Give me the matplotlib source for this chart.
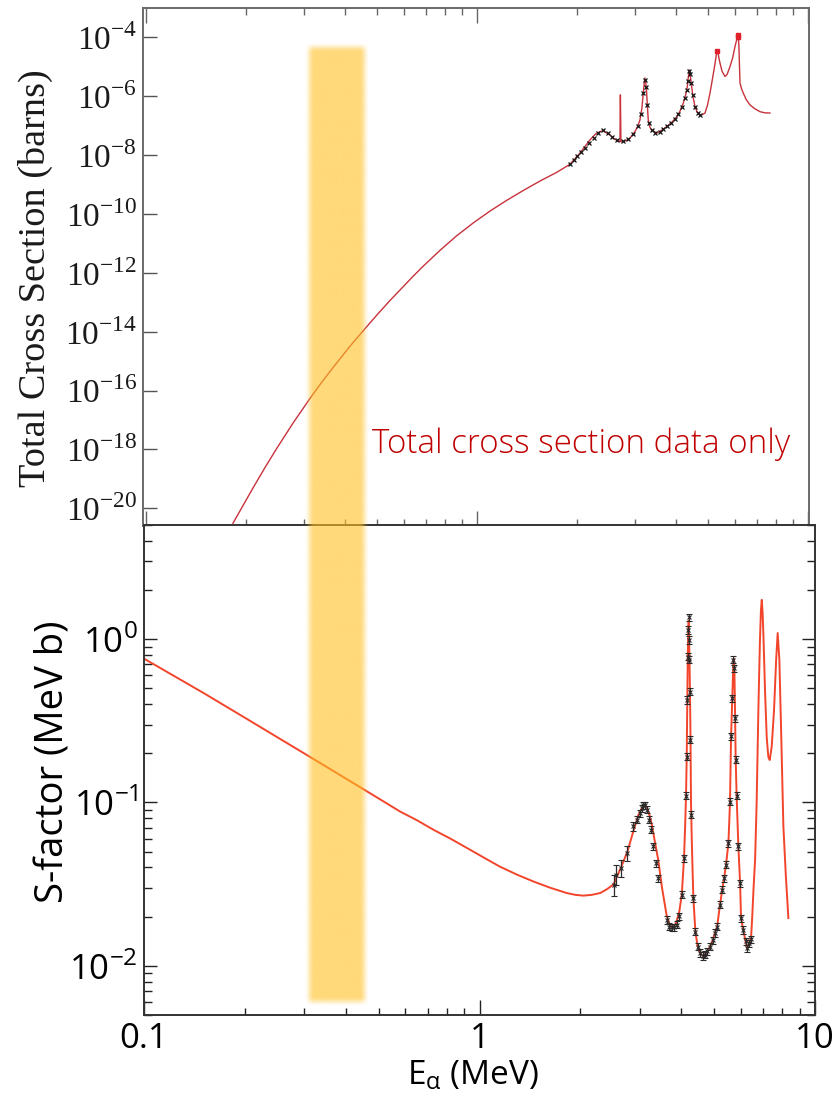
import numpy as np
import matplotlib
matplotlib.use("Agg")
import matplotlib.pyplot as plt
from matplotlib.ticker import FixedLocator, LogLocator, NullLocator, NullFormatter

# ---------------- upper panel: total cross section (barns) ----------------
sig_fit_E = [0.1832, 0.1966, 0.2110, 0.2288, 0.2482, 0.2787, 0.3130, 0.3394, 0.3680,
             0.4133, 0.4643, 0.5035, 0.5461, 0.5923, 0.6423, 0.6884, 0.773, 0.8683,
             0.975, 1.095, 1.229, 1.380, 1.55, 1.741, 1.910, 2.05, 2.195, 2.28, 2.353,
             2.41, 2.465, 2.52, 2.58, 2.673, 2.704, 2.712, 2.722, 2.767, 2.83, 2.899,
             3.00, 3.05, 3.108, 3.15, 3.18, 3.20, 3.218, 3.237, 3.256, 3.275, 3.292,
             3.33, 3.372, 3.491, 3.62, 3.742, 3.88, 4.012, 4.11, 4.202, 4.27, 4.319,
             4.35, 4.379, 4.41, 4.453, 4.50, 4.556, 4.62, 4.718, 4.80, 4.885, 4.97,
             5.058, 5.13, 5.20, 5.26, 5.30, 5.321, 5.345, 5.38, 5.422, 5.50, 5.614,
             5.70, 5.812, 5.92, 6.018, 6.10, 6.159, 6.185, 6.21, 6.232, 6.30, 6.374,
             6.50, 6.679, 6.90, 7.161, 7.40, 7.677]
sig_fit = [3.1e-21, 1.26e-20, 5.1e-20, 2.4e-19, 1.07e-18, 8.1e-18, 5.4e-17, 1.9e-16,
           6.2e-16, 3.2e-15, 1.48e-14, 4.2e-14, 1.15e-13, 3.0e-13, 7.8e-13, 1.7e-12,
           5.8e-12, 1.82e-11, 5.0e-11, 1.26e-10, 2.9e-10, 6.3e-10, 1.32e-9, 2.6e-9,
           4.9e-9, 1.2e-8, 3.3e-8, 5.2e-8, 6.3e-8, 6.8e-8, 5.6e-8, 4.9e-8, 3.8e-8,
           2.95e-8, 2.9e-8, 1.12e-6, 2.9e-8, 2.9e-8, 3.2e-8, 3.8e-8, 6.3e-8, 8.9e-8,
           1.58e-7, 4.0e-7, 1.29e-6, 2.8e-6, 4.2e-6, 2.8e-6, 1.29e-6, 4.0e-7, 1.58e-7,
           8.9e-8, 7.2e-8, 5.6e-8, 7.1e-8, 9.3e-8, 1.32e-7, 2.0e-7, 3.2e-7, 5.9e-7,
           1.12e-6, 2.1e-6, 4.5e-6, 7.9e-6, 5.0e-6, 2.1e-6, 8.9e-7, 4.5e-7, 3.0e-7,
           2.3e-7, 2.4e-7, 2.7e-7, 5.0e-7, 1.29e-6, 3.2e-6, 7.9e-6, 1.8e-5, 3.2e-5,
           3.8e-5, 3.2e-5, 2.0e-5, 1.35e-5, 7.1e-6, 4.7e-6, 5.6e-6, 1.02e-5, 2.0e-5,
           4.9e-5, 8.9e-5, 1.23e-4, 5.0e-5, 1.0e-5, 2.8e-6, 1.78e-6, 1.29e-6, 7.9e-7,
           5.1e-7, 3.8e-7, 3.0e-7, 2.75e-7, 2.7e-7]

sig_dat_E = [1.91, 1.96, 2.01, 2.06, 2.12, 2.18, 2.25, 2.32, 2.40, 2.48, 2.56, 2.64,
             2.76, 2.86, 2.96, 3.06, 3.13, 3.18, 3.21, 3.24, 3.27, 3.31, 3.38, 3.46,
             3.56, 3.66, 3.76, 3.86, 3.96, 4.06, 4.16, 4.24, 4.30, 4.34, 4.37, 4.40,
             4.44, 4.49, 4.56, 4.64, 4.72]
sig_dat = [5.0e-9, 7.1e-9, 9.5e-9, 1.32e-8, 1.82e-8, 2.6e-8, 3.8e-8, 5.6e-8, 6.9e-8,
           5.75e-8, 4.2e-8, 3.2e-8, 2.95e-8, 3.55e-8, 5.2e-8, 1.0e-7, 2.5e-7, 1.26e-6,
           3.5e-6, 2.0e-6, 5.0e-7, 1.26e-7, 7.1e-8, 5.75e-8, 6.3e-8, 7.9e-8, 9.5e-8,
           1.2e-7, 1.74e-7, 2.5e-7, 4.5e-7, 8.9e-7, 1.58e-6, 3.3e-6, 7.1e-6, 5.6e-6,
           2.8e-6, 1.12e-6, 4.5e-7, 2.8e-7, 2.4e-7]
sig_peak_E = [5.32, 6.15, 6.16]
sig_peak = [3.5e-5, 1.0e-4, 1.2e-4]

# ---------------- lower panel: S-factor (MeV b) ----------------
S_fit_E = [0.10, 0.15, 0.20, 0.30, 0.40, 0.50, 0.58, 0.65, 0.73, 0.82, 0.92, 1.03,
           1.15, 1.30, 1.45, 1.63, 1.82, 1.93, 2.04, 2.16, 2.29, 2.40, 2.51, 2.64,
           2.76, 2.87, 2.97, 3.05, 3.10, 3.15, 3.20, 3.26, 3.33, 3.41, 3.50, 3.61,
           3.70, 3.78, 3.86, 3.94, 4.01, 4.07, 4.10, 4.126, 4.146, 4.163, 4.176, 4.19,
           4.203, 4.215, 4.227, 4.241, 4.256, 4.27, 4.29, 4.32, 4.34, 4.40, 4.47, 4.54,
           4.63, 4.70, 4.78, 4.86, 4.96, 5.03, 5.11, 5.21, 5.29, 5.36, 5.43, 5.52,
           5.58, 5.62, 5.67, 5.71, 5.73, 5.75, 5.78, 5.80, 5.84, 5.91, 5.98, 6.02,
           6.11, 6.21, 6.28, 6.37, 6.45, 6.50, 6.56, 6.63, 6.70, 6.78, 6.85, 6.90,
           6.94, 6.98, 7.02, 7.10, 7.18, 7.26, 7.33, 7.43, 7.55, 7.66, 7.74, 7.83,
           7.92, 8.05, 8.19, 8.33]
S_fit = [0.76, 0.47, 0.33, 0.20, 0.14, 0.106, 0.088, 0.078, 0.068, 0.060, 0.0525,
         0.046, 0.0405, 0.036, 0.0328, 0.0300, 0.0279, 0.0272, 0.0269, 0.0272, 0.0279,
         0.0295, 0.0315, 0.040, 0.050, 0.066, 0.083, 0.093, 0.0965, 0.094, 0.086,
         0.074, 0.058, 0.0445, 0.030, 0.0205, 0.0175, 0.0170, 0.0185, 0.0215, 0.0275,
         0.046, 0.07, 0.11, 0.19, 0.43, 0.78, 1.12, 1.30, 1.02, 0.72, 0.46, 0.24,
         0.10, 0.062, 0.036, 0.026, 0.0162, 0.0131, 0.0120, 0.0115, 0.0117, 0.0123,
         0.0131, 0.0144, 0.0159, 0.0174, 0.0237, 0.0292, 0.0345, 0.0416, 0.0565,
         0.10, 0.25, 0.44, 0.72, 0.76, 0.66, 0.33, 0.19, 0.11, 0.054, 0.032, 0.0196,
         0.0166, 0.0141, 0.0128, 0.0138, 0.015, 0.020, 0.030, 0.045, 0.10, 0.37,
         0.95, 1.5, 1.74, 1.45, 1.04, 0.47, 0.25, 0.19, 0.182, 0.22, 0.37, 0.75, 1.09,
         0.75, 0.29, 0.071, 0.035, 0.0196]

S_dat_E = [2.51, 2.56, 2.64, 2.76, 2.87, 2.94, 3.00, 3.05, 3.08, 3.12, 3.15, 3.19,
           3.24, 3.30, 3.35, 3.41, 3.61, 3.68, 3.74, 3.80, 3.87, 3.94, 4.01, 4.07,
           4.13, 4.15, 4.16, 4.17, 4.18, 4.20, 4.21, 4.225, 4.24, 4.255, 4.275, 4.34,
           4.40, 4.47, 4.54, 4.63, 4.70, 4.78, 4.86, 4.96, 5.03, 5.11, 5.21, 5.29,
           5.36, 5.43, 5.52, 5.58, 5.62, 5.67, 5.71, 5.75, 5.78, 5.80, 5.84, 5.91,
           5.98, 6.02, 6.11, 6.22, 6.28, 6.37, 6.43]
S_dat = [0.0313, 0.0361, 0.0397, 0.049, 0.0713, 0.0783, 0.0861, 0.0924, 0.0959,
         0.0959, 0.0902, 0.0783, 0.0681, 0.0538, 0.0426, 0.0345, 0.0191, 0.0174,
         0.0172, 0.0172, 0.0179, 0.0201, 0.0272, 0.0457, 0.110, 0.191, 0.425, 0.783,
         1.14, 1.36, 0.99, 0.747, 0.478, 0.242, 0.0841, 0.026, 0.0162, 0.0131, 0.0120,
         0.0115, 0.0117, 0.0123, 0.0131, 0.0144, 0.0159, 0.0174, 0.0237, 0.0292,
         0.0345, 0.0416, 0.0565, 0.101, 0.254, 0.436, 0.747, 0.665, 0.329, 0.183,
         0.110, 0.0538, 0.0321, 0.0196, 0.0166, 0.0141, 0.0128, 0.0138, 0.0146]
S_rel_err = [0.15, 0.14, 0.12, 0.10, 0.06, 0.05, 0.05, 0.05, 0.05, 0.05, 0.05, 0.05,
             0.05, 0.05, 0.05, 0.05, 0.05, 0.05, 0.05, 0.05, 0.05, 0.05, 0.05, 0.05,
             0.05, 0.05, 0.05, 0.05, 0.05, 0.05, 0.05, 0.05, 0.05, 0.05, 0.05, 0.05,
             0.05, 0.05, 0.05, 0.05, 0.05, 0.05, 0.05, 0.05, 0.05, 0.05, 0.05, 0.05,
             0.05, 0.05, 0.05, 0.05, 0.05, 0.05, 0.05, 0.05, 0.05, 0.05, 0.05, 0.05,
             0.05, 0.05, 0.05, 0.05, 0.05, 0.05, 0.05]

# highlighted energy window (MeV) and its vertical reach in each panel
band_E = (0.31, 0.455)
band_S_floor = 0.006       # MeV b, lower panel
band_sig_ceiling = 4.8e-5  # barns, upper panel

top_yticks = [1e-20, 1e-18, 1e-16, 1e-14, 1e-12, 1e-10, 1e-8, 1e-6, 1e-4]
top_ylabels = [r'10$^{\mathregular{%d}}$' % e for e in range(-20, -3, 2)]
bot_yticks = [1e-2, 1e-1, 1e0]
bot_ylabels = [r'10$^{\mathregular{-2}}$', r'10$^{\mathregular{-1}}$', r'10$^{\mathregular{0}}$']
bot_xticks = [0.1, 1, 10]
bot_xlabels = ['0.1', '1', '10']

# ---------------- figure ----------------
W, H = 833, 1101
fig = plt.figure(figsize=(W / 100, H / 100), dpi=100)


def px_axes(left, top, right, bottom, **kw):
    return fig.add_axes([left / W, 1 - bottom / H, (right - left) / W, (bottom - top) / H], **kw)


serif = 'Liberation Serif'
narrow = ['Liberation Sans Narrow', 'Open Sans']
sans = 'Open Sans'

# upper panel
ax1 = px_axes(143, 8, 809, 526)
ax1.set_xscale('log')
ax1.set_yscale('log')
ax1.set_xlim(0.098, 10.07)
ax1.set_ylim(10 ** -20.6, 1e-3)
ax1.plot(sig_fit_E, sig_fit, color='#C8323C', lw=1.0, zorder=2)
ax1.plot(sig_dat_E, sig_dat, ls='none', marker='x', ms=2.8, mew=0.9, color='#151515', zorder=3)
ax1.plot(sig_peak_E, sig_peak, ls='none', marker='s', ms=2.2, color='#E0202A', zorder=3)

ax1.xaxis.set_major_locator(FixedLocator([0.1, 1, 10]))
ax1.xaxis.set_minor_locator(LogLocator(base=10, subs=np.arange(2, 10)))
ax1.xaxis.set_major_formatter(NullFormatter())
ax1.xaxis.set_minor_formatter(NullFormatter())
ax1.yaxis.set_major_locator(FixedLocator(top_yticks))
ax1.yaxis.set_minor_locator(NullLocator())
ax1.set_yticklabels(top_ylabels, fontfamily=serif, fontsize=24, color='#1a1a1a')
ax1.tick_params(axis='x', which='both', direction='in', top=True, bottom=True,
                colors='#666666', width=1.0)
ax1.tick_params(axis='x', which='major', length=10.8)
ax1.tick_params(axis='x', which='minor', length=5)
ax1.tick_params(axis='y', which='major', direction='in', left=True, right=False,
                length=10.1, width=1.0, color='#555555', pad=4.3)
for sp in ax1.spines.values():
    sp.set_color('#6a6a6a')
    sp.set_linewidth(1.4)
ax1.set_ylabel('Total Cross Section (barns)', fontfamily=serif, fontsize=27.5, color='#1a1a1a')
ax1.yaxis.label.set_va('center')
ax1.yaxis.set_label_coords(-0.162, 0.479)
ax1.text(0.344, 0.141, 'Total cross section data only', transform=ax1.transAxes,
         fontfamily=sans, fontweight=300, fontsize=23.9, color='#C00000',
         va='baseline', ha='left')

# lower panel
ax2 = px_axes(144, 525, 815, 1015)
ax2.set_xscale('log')
ax2.set_yscale('log')
ax2.set_xlim(0.1, 10)
ax2.set_ylim(0.005, 5)
ax2.plot(S_fit_E, S_fit, color='#F2452B', lw=1.4, zorder=2)
S_err = [s * r for s, r in zip(S_dat, S_rel_err)]
ax2.errorbar(S_dat_E, S_dat, yerr=S_err, fmt='x', ms=2.8, mew=0.8, color='#2a2a2a',
             ecolor='#2a2a2a', elinewidth=0.9, capsize=2.3, capthick=0.9, zorder=3)

ax2.xaxis.set_major_locator(FixedLocator(bot_xticks))
ax2.xaxis.set_minor_locator(LogLocator(base=10, subs=np.arange(2, 10)))
ax2.xaxis.set_minor_formatter(NullFormatter())
ax2.set_xticklabels(bot_xlabels, fontfamily=narrow, fontsize=25)
ax2.yaxis.set_major_locator(FixedLocator(bot_yticks))
ax2.yaxis.set_minor_locator(LogLocator(base=10, subs=np.arange(2, 10)))
ax2.yaxis.set_minor_formatter(NullFormatter())
ax2.set_yticklabels(bot_ylabels, fontfamily=narrow, fontsize=25)
ax2.tick_params(axis='x', which='both', direction='in', top=False, bottom=True,
                color='#222222', width=1.0, pad=5)
ax2.tick_params(axis='x', which='major', length=10.8)
ax2.tick_params(axis='x', which='minor', length=5)
ax2.tick_params(axis='y', which='both', direction='in', left=True, right=True,
                color='#222222', width=1.0, pad=4.3)
ax2.tick_params(axis='y', which='major', length=9.4)
ax2.tick_params(axis='y', which='minor', length=5.8)
for sp in ax2.spines.values():
    sp.set_color('#333333')
    sp.set_linewidth(1.4)
ax2.set_ylabel('S-factor (MeV b)', fontfamily=sans, fontsize=27.5)
ax2.yaxis.label.set_va('center')
ax2.yaxis.set_label_coords(-0.1356, 0.517)
ax2.set_xlabel(r'E$_{\mathregular{α}}$ (MeV)', fontfamily=sans, fontsize=24)
ax2.xaxis.set_label_coords(0.49, -0.088)

# ---------------- soft-edged highlight band across both panels ----------------
to_px = lambda ax, x, y: ax.transData.transform((x, y))
xl, yb = to_px(ax2, band_E[0], band_S_floor)
xr, _ = to_px(ax2, band_E[1], band_S_floor)
_, yt = to_px(ax1, band_E[0], band_sig_ceiling)
soft, pad = 5.0, 10
xs = np.arange(xl - pad, xr + pad + 1)
ys = np.arange(yb - pad, yt + pad + 1)


def ramp(d):
    a = np.clip((d + soft) / (2 * soft), 0, 1)
    return a * a * (3 - 2 * a)


ax_alpha = ramp(np.minimum(xs - xl, xr - xs))
ay_alpha = ramp(np.minimum(ys - yb, yt - ys))
alpha = np.outer(ay_alpha, ax_alpha) * 0.6
img = np.zeros(alpha.shape + (4,))
img[..., 0] = 255 / 255
img[..., 1] = 192 / 255
img[..., 2] = 33 / 255
img[..., 3] = alpha

overlay = fig.add_axes([0, 0, 1, 1], zorder=5)
overlay.set_axis_off()
overlay.patch.set_visible(False)
overlay.set_xlim(0, W)
overlay.set_ylim(0, H)
overlay.imshow(img, extent=[xs[0], xs[-1], ys[0], ys[-1]], origin='lower',
               aspect='auto', interpolation='bilinear')

fig.savefig('out.png', dpi=100)
